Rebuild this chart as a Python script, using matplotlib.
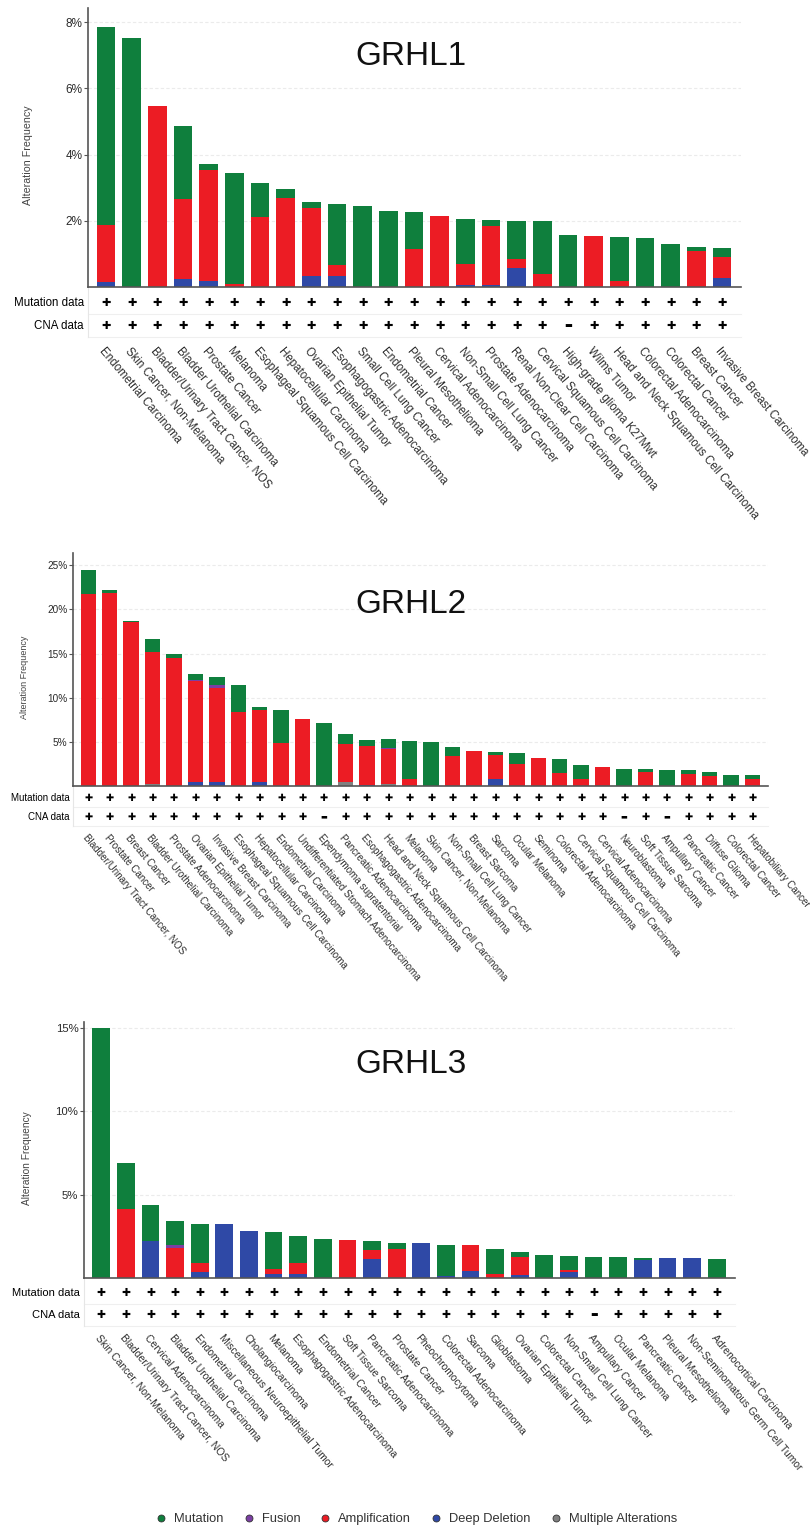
import numpy as np
import matplotlib.pyplot as plt
from matplotlib.lines import Line2D

plt.rcParams['font.family'] = ['Liberation Sans', 'DejaVu Sans']

# colours used by the portal
c_mut = '#0f7f3d'
c_fus = '#7b3fa3'
c_amp = '#ec1c24'
c_del = '#2f49a6'
c_multi = '#808080'

# --- GRHL1 ---
types1 = ["Endometrial Carcinoma", "Skin Cancer, Non-Melanoma", "Bladder/Urinary Tract Cancer, NOS",
          "Bladder Urothelial Carcinoma", "Prostate Cancer", "Melanoma",
          "Esophageal Squamous Cell Carcinoma", "Hepatocellular Carcinoma", "Ovarian Epithelial Tumor",
          "Esophagogastric Adenocarcinoma", "Small Cell Lung Cancer", "Endometrial Cancer",
          "Pleural Mesothelioma", "Cervical Adenocarcinoma", "Non-Small Cell Lung Cancer",
          "Prostate Adenocarcinoma", "Renal Non-Clear Cell Carcinoma", "Cervical Squamous Cell Carcinoma",
          "High-grade glioma K27Mwt", "Wilms Tumor", "Head and Neck Squamous Cell Carcinoma",
          "Colorectal Adenocarcinoma", "Colorectal Cancer", "Breast Cancer", "Invasive Breast Carcinoma"]
mut1 = [6.00, 7.51, 0, 2.20, 0.18, 3.35, 1.05, 0.27, 0.16, 1.86, 2.45, 2.31, 1.13,
        0, 1.35, 0.17, 1.15, 1.59, 1.58, 0, 1.34, 1.47, 1.31, 0.10, 0.27]
fus1 = [0] * 25
amp1 = [1.71, 0, 5.48, 2.43, 3.37, 0.09, 2.10, 2.70, 2.07, 0.33, 0, 0, 1.15,
        2.16, 0.64, 1.78, 0.29, 0.39, 0, 1.53, 0.18, 0, 0, 1.10, 0.64]
del1 = [0.15, 0, 0, 0.23, 0.17, 0, 0, 0, 0.33, 0.33, 0, 0, 0,
        0, 0.06, 0.07, 0.56, 0, 0, 0, 0, 0, 0, 0, 0.27]
multi1 = [0] * 25
mutdata1 = [1] * 25
cna1 = [1] * 18 + [0] + [1] * 6
yticks1 = [2, 4, 6, 8]

# --- GRHL2 ---
types2 = ["Bladder/Urinary Tract Cancer, NOS", "Prostate Cancer", "Breast Cancer",
          "Bladder Urothelial Carcinoma", "Prostate Adenocarcinoma", "Ovarian Epithelial Tumor",
          "Invasive Breast Carcinoma", "Esophageal Squamous Cell Carcinoma", "Hepatocellular Carcinoma",
          "Endometrial Carcinoma", "Undifferentiated Stomach Adenocarcinoma", "Ependymoma supratentorial",
          "Pancreatic Adenocarcinoma", "Esophagogastric Adenocarcinoma",
          "Head and Neck Squamous Cell Carcinoma", "Melanoma", "Skin Cancer, Non-Melanoma",
          "Non-Small Cell Lung Cancer", "Breast Sarcoma", "Sarcoma", "Ocular Melanoma", "Seminoma",
          "Colorectal Adenocarcinoma", "Cervical Squamous Cell Carcinoma", "Cervical Adenocarcinoma",
          "Neuroblastoma", "Soft Tissue Sarcoma", "Ampullary Cancer", "Pancreatic Cancer",
          "Diffuse Glioma", "Colorectal Cancer", "Hepatobiliary Cancer"]
mut2 = [2.70, 0.38, 0.15, 1.50, 0.45, 0.60, 0.85, 3.10, 0.25, 3.74, 0, 7.09, 1.12, 0.67, 0.95, 4.30,
        4.94, 1.00, 0, 0.43, 1.25, 0, 1.59, 1.55, 0, 1.96, 0.30, 1.85, 0.41, 0.38, 1.28, 0.41]
fus2 = [0, 0, 0, 0, 0.10, 0.15, 0.40, 0, 0, 0, 0, 0, 0, 0, 0.20, 0,
        0, 0, 0, 0, 0, 0, 0, 0, 0, 0, 0, 0, 0, 0, 0, 0]
amp2 = [21.80, 21.85, 18.57, 14.95, 14.45, 11.45, 10.70, 8.38, 8.20, 4.90, 7.62, 0, 4.30, 4.38, 3.95, 0.80,
        0, 3.40, 3.96, 2.72, 2.49, 3.13, 1.47, 0.79, 2.11, 0, 1.62, 0, 1.36, 1.17, 0, 0.79]
del2 = [0, 0, 0, 0, 0, 0.45, 0.40, 0, 0.45, 0, 0, 0, 0, 0.15, 0, 0,
        0, 0, 0, 0.75, 0, 0, 0, 0, 0, 0, 0, 0, 0, 0, 0, 0]
multi2 = [0, 0, 0, 0.26, 0, 0, 0, 0, 0, 0, 0, 0, 0.50, 0, 0.20, 0,
          0, 0, 0, 0, 0, 0, 0, 0, 0, 0, 0, 0, 0, 0, 0, 0]
mutdata2 = [1] * 32
cna2 = [1] * 11 + [0] + [1] * 13 + [0, 1, 0] + [1] * 4
yticks2 = [5, 10, 15, 20, 25]

# --- GRHL3 ---
types3 = ["Skin Cancer, Non-Melanoma", "Bladder/Urinary Tract Cancer, NOS", "Cervical Adenocarcinoma",
          "Bladder Urothelial Carcinoma", "Endometrial Carcinoma", "Miscellaneous Neuroepithelial Tumor",
          "Cholangiocarcinoma", "Melanoma", "Esophagogastric Adenocarcinoma", "Endometrial Cancer",
          "Soft Tissue Sarcoma", "Pancreatic Adenocarcinoma", "Prostate Cancer", "Pheochromocytoma",
          "Colorectal Adenocarcinoma", "Sarcoma", "Glioblastoma", "Ovarian Epithelial Tumor",
          "Colorectal Cancer", "Non-Small Cell Lung Cancer", "Ampullary Cancer", "Ocular Melanoma",
          "Pancreatic Cancer", "Pleural Mesothelioma", "Non-Seminomatous Germ Cell Tumor",
          "Adrenocortical Carcinoma"]
mut3 = [15.0, 2.76, 2.18, 1.46, 2.38, 0, 0, 2.24, 1.66, 2.36, 0, 0.54, 0.34,
        0, 1.86, 0, 1.50, 0.30, 1.36, 0.86, 1.28, 1.28, 0.14, 0, 0, 1.14]
fus3 = [0, 0, 0, 0.20, 0, 0, 0, 0, 0, 0, 0, 0, 0,
        0, 0, 0, 0, 0, 0, 0, 0, 0, 0, 0, 0, 0]
amp3 = [0, 4.12, 0, 1.78, 0.54, 0, 0, 0.32, 0.66, 0, 2.30, 0.54, 1.74,
        0, 0, 1.54, 0.22, 1.06, 0, 0.08, 0, 0, 0, 0, 0, 0]
del3 = [0, 0, 2.20, 0, 0.34, 3.26, 2.82, 0.22, 0.22, 0, 0, 1.12, 0,
        2.08, 0.14, 0.44, 0, 0.20, 0, 0.38, 0, 0, 1.08, 1.18, 1.18, 0]
multi3 = [0] * 26
mutdata3 = [1] * 26
cna3 = [1] * 20 + [0] + [1] * 5
yticks3 = [5, 10, 15]

W, H = 810, 1529
fig = plt.figure(figsize=(W / 100, H / 100), dpi=100)


def panel(gene, types, mut, fus, amp, dele, multi, mutdata, cna, yticks,
          px, ylim, first_x, step, title_base, ylab_x, fs, rows, lab_off):
    left, right, bottom, top = px
    ax = fig.add_axes([left / W, 1 - bottom / H, (right - left) / W, (bottom - top) / H])
    hpx = bottom - top
    n = len(types)
    x = np.arange(n)
    base = np.zeros(n)
    for vals, col in [(multi, c_multi), (dele, c_del), (amp, c_amp), (fus, c_fus), (mut, c_mut)]:
        v = np.array(vals, dtype=float)
        ax.bar(x, v, bottom=base, width=0.72, color=col, linewidth=0, zorder=2)
        base += v
    x0 = (left - first_x) / step
    ax.set_xlim(x0, (right - first_x) / step)
    ax.set_ylim(0, ylim)
    ax.set_yticks(yticks)
    ax.set_yticklabels([f"{t}%" for t in yticks], fontsize=fs['tick'], color='#2a2a2a')
    ax.yaxis.grid(True, color='#ebebeb', linestyle=(0, (3, 2)), linewidth=0.8)
    ax.set_axisbelow(True)
    for s in ['top', 'right']:
        ax.spines[s].set_visible(False)
    for s in ['left', 'bottom']:
        ax.spines[s].set_color('#555555')
        ax.spines[s].set_linewidth(1.2)
    ax.tick_params(axis='y', length=3, width=0.8, color='#555555', pad=1)
    ax.set_xticks(x)
    ax.set_xticklabels(types, rotation=-50, ha='left', va='top', rotation_mode='anchor',
                       fontsize=fs['lab'], color='#2e2e2e')
    ax.tick_params(axis='x', length=0, pad=lab_off * 0.72)

    # profiled rows: heavy plus when profiled, minus when not
    tr = ax.get_xaxis_transform()
    for row_off, flags, name in [(rows[0], mutdata, 'Mutation data'), (rows[1], cna, 'CNA data')]:
        yf = -row_off / hpx
        ax.text(x0 - 0.17, yf, name, transform=tr,
                ha='right', va='center', fontsize=fs['row'], clip_on=False)
        for i, f in enumerate(flags):
            if f:
                ax.text(i, yf, '\u271a', transform=tr, ha='center', va='center',
                        fontsize=fs['plus'], family='DejaVu Sans', clip_on=False)
            else:
                ax.text(i, yf, '\u25ac', transform=tr, ha='center', va='center',
                        fontsize=fs['plus'] * 0.75, family='DejaVu Sans', clip_on=False)
    # faint table lines
    for yy in [(rows[0] + rows[1]) / 2, rows[1] + (rows[1] - rows[0]) / 2]:
        ax.plot([0, 1], [-yy / hpx] * 2, transform=ax.transAxes, color='#efefef',
                lw=0.8, clip_on=False, zorder=0)
    ax.plot([0, 0], [0, -(rows[1] + (rows[1] - rows[0]) / 2) / hpx], transform=ax.transAxes,
            color='#e6e6e6', lw=0.8, clip_on=False, zorder=0)

    fig.text(411 / W, 1 - title_base / H, gene, ha='center', va='baseline', fontsize=24,
             color='#111111')
    fig.text(ylab_x / W, 1 - (top + bottom) / 2 / H - 0.005, 'Alteration Frequency', rotation=90,
             ha='center', va='center', fontsize=fs['ylab'], color='#444444')
    return ax


panel('GRHL1', types1, mut1, fus1, amp1, del1, multi1, mutdata1, cna1, yticks1,
      (88, 741, 287, 8), 8.43, 106, 25.67, 65, 28,
      dict(tick=8.5, lab=8.3, row=8.3, plus=8.0, ylab=7.7), (15.7, 38.7), 58)
panel('GRHL2', types2, mut2, fus2, amp2, del2, multi2, mutdata2, cna2, yticks2,
      (73, 768, 786, 553), 26.4, 88.3, 21.43, 613, 25,
      dict(tick=7.2, lab=7.1, row=7.0, plus=7.0, ylab=6.5), (11.7, 30.7), 47)
panel('GRHL3', types3, mut3, fus3, amp3, del3, multi3, mutdata3, cna3, yticks3,
      (84, 735, 1278, 1022), 15.35, 101.2, 24.62, 1073, 27,
      dict(tick=8.2, lab=7.5, row=8.0, plus=7.7, ylab=7.3), (15.0, 37.0), 55)

# legend
leg_names = ['Mutation', 'Fusion', 'Amplification', 'Deep Deletion', 'Multiple Alterations']
leg_cols = [c_mut, c_fus, c_amp, c_del, c_multi]
handles = [Line2D([], [], marker='o', ls='', markersize=5, markerfacecolor=c,
                  markeredgecolor='#333333', markeredgewidth=0.6) for c in leg_cols]
fig.legend(handles, leg_names, loc='center', bbox_to_anchor=(415 / W, 1 - 1519 / H), ncol=5,
           frameon=False, fontsize=9.3, handletextpad=0.35, columnspacing=1.3,
           handlelength=1.3, labelcolor='#333333')

fig.savefig('out.png', dpi=100)
